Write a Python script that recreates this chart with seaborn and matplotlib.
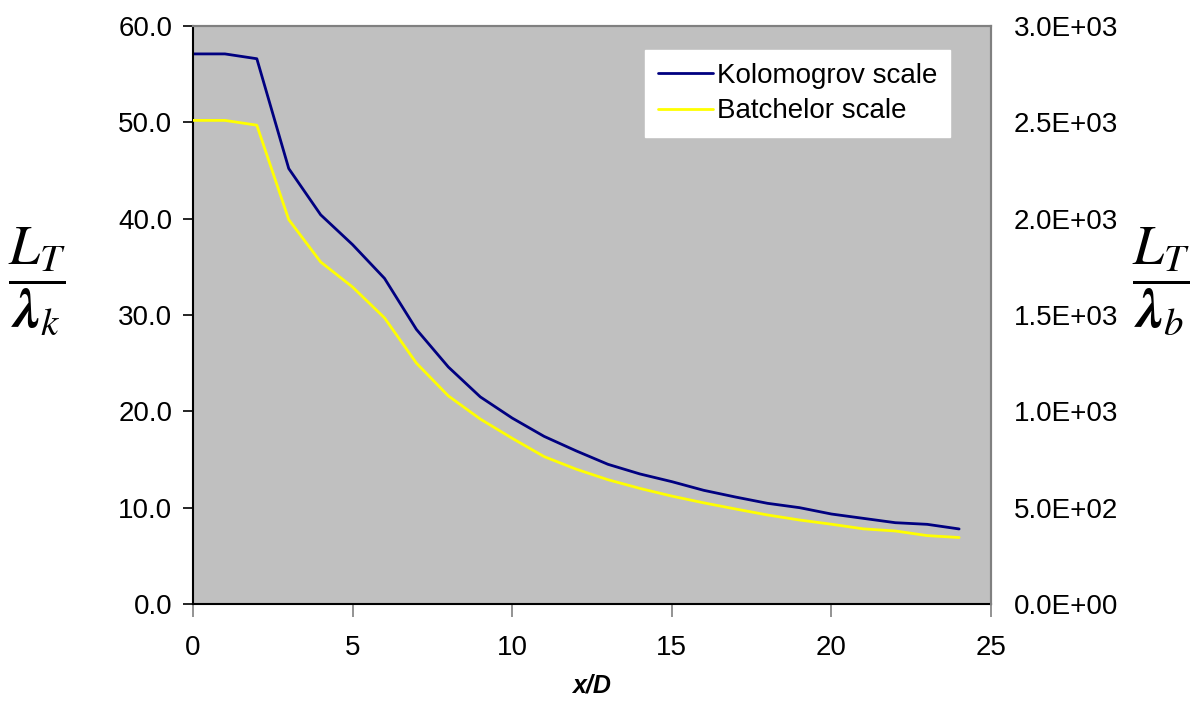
import matplotlib
matplotlib.use("Agg")
import matplotlib.pyplot as plt
import seaborn as sns
import pandas as pd
from matplotlib.ticker import FormatStrFormatter, FuncFormatter

# Downstream distance (x/D)
x_over_d = list(range(0, 25))

# L_T / lambda_k  (left axis)
kolmogorov = [57.1, 57.1, 56.6, 45.2, 40.4, 37.3, 33.8, 28.5, 24.6, 21.5,
              19.3, 17.4, 15.9, 14.5, 13.5, 12.7, 11.8, 11.1, 10.45, 10.0,
              9.34, 8.89, 8.44, 8.27, 7.79]

# L_T / lambda_b  (right axis)
batchelor = [2510, 2510, 2485, 1995, 1775, 1645, 1485, 1250, 1080, 960,
             860, 765, 700, 645, 600, 560, 525, 493, 462, 436,
             414, 390, 379, 355, 345]

series_names = ["Kolomogrov scale", "Batchelor scale"]

sns.set_style("white")
plt.rcParams["font.family"] = ["Liberation Sans", "DejaVu Sans"]
plt.rcParams["mathtext.fontset"] = "stix"
plt.rcParams["text.color"] = "black"
plt.rcParams["axes.labelcolor"] = "black"
plt.rcParams["xtick.labelcolor"] = "black"
plt.rcParams["ytick.labelcolor"] = "black"

df = pd.DataFrame({"x": x_over_d, "k": kolmogorov, "b": batchelor})

fig = plt.figure(figsize=(11.92, 7.02), dpi=100)
ax = fig.add_axes([0.1619, 0.1396, 0.8314 - 0.1619, 0.963 - 0.1396])
ax.set_facecolor("#C0C0C0")
ax2 = ax.twinx()

sns.lineplot(data=df, x="x", y="k", ax=ax, color="#000080", lw=2.0,
             label=series_names[0], legend=False)
sns.lineplot(data=df, x="x", y="b", ax=ax2, color="#FFFF00", lw=2.0,
             label=series_names[1], legend=False)

ax.set_xlim(0, 25)
ax.set_ylim(0, 60)
ax2.set_ylim(0, 3000)
ax.set_xticks(range(0, 26, 5))
ax.set_yticks(range(0, 61, 10))
ax2.set_yticks(range(0, 3001, 500))
ax.yaxis.set_major_formatter(FormatStrFormatter("%.1f"))
ax2.yaxis.set_major_formatter(FuncFormatter(lambda v, p: f"{v:.1E}"))

for a in (ax, ax2):
    for s in ("top", "right"):
        a.spines[s].set_color("#808080")
        a.spines[s].set_linewidth(1.5)
    for s in ("left", "bottom"):
        a.spines[s].set_color("black")
        a.spines[s].set_linewidth(1.5)
    a.set_xlabel("")
    a.set_ylabel("")
ax2.spines["left"].set_visible(False)
ax2.spines["bottom"].set_visible(False)

ax.tick_params(axis="y", direction="out", length=7, width=1.2, color="black",
               labelsize=20, pad=8, left=True, labelcolor="black")
ax.tick_params(axis="x", direction="out", length=9, width=1.2, color="#808080",
               labelsize=20, pad=13, bottom=True, labelcolor="black")
ax2.tick_params(axis="y", right=False, labelsize=20, pad=13, labelcolor="black")

ax.set_xlabel("x/D", fontsize=18, fontweight="bold", fontstyle="italic",
              labelpad=9, color="black")

fig.text(0.031, 0.60, r"$\dfrac{L_T}{\mathbfit{\lambda}_k}$", fontsize=40,
         ha="center", va="center")
fig.text(0.974, 0.60, r"$\dfrac{L_T}{\mathbfit{\lambda}_b}$", fontsize=40,
         ha="center", va="center")

handles = ax.get_lines()[:1] + ax2.get_lines()[:1]
leg = ax.legend(handles, series_names, loc="upper right",
                bbox_to_anchor=(0.949, 0.958), borderaxespad=0,
                fontsize=20, frameon=True, fancybox=False, framealpha=1,
                handlelength=2.0, handletextpad=0.15, labelspacing=0.35,
                borderpad=0.45)
leg.get_frame().set_facecolor("white")
leg.get_frame().set_edgecolor("white")
for line in leg.get_lines():
    line.set_linewidth(2.0)
for t in leg.get_texts():
    t.set_color("black")
ax2.set_zorder(ax.zorder + 1)
ax2.patch.set_visible(False)
# keep legend above the twin axes
leg.remove()
ax2.add_artist(leg)

fig.savefig("out.png", dpi=100)
